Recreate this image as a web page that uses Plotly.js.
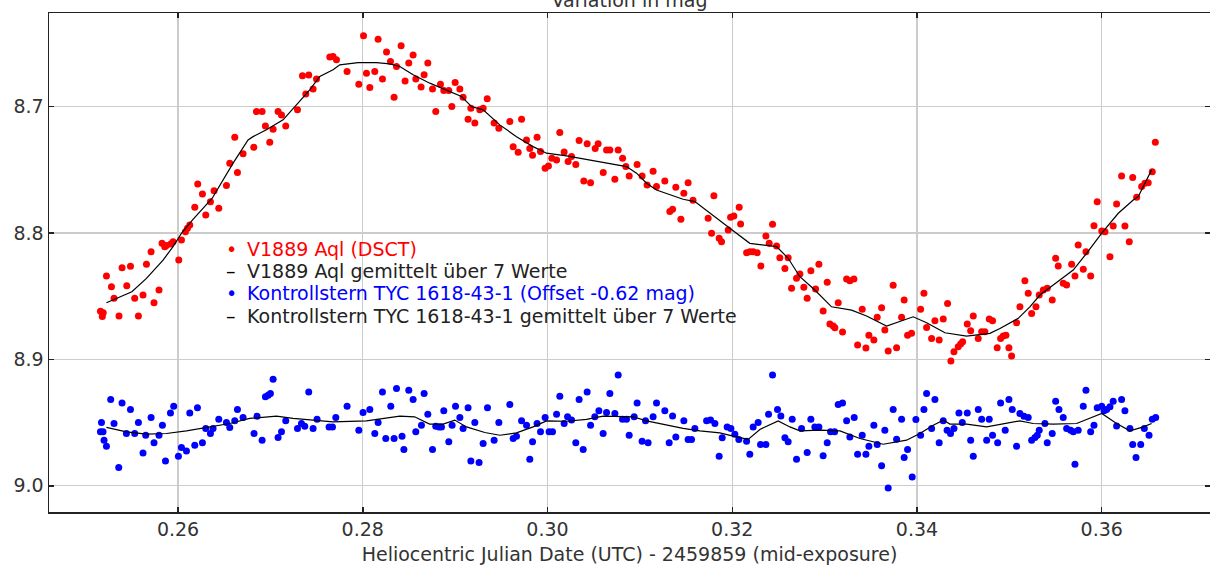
<!DOCTYPE html>
<html>
<head>
<meta charset="utf-8">
<script src="https://cdn.plot.ly/plotly-3.0.1.min.js"></script>
<style>html,body{margin:0;padding:0;background:#fff;}#chart{width:1210px;height:566px;}</style>
</head>
<body>
<div id="chart"></div>
<script>
// V1889 Aql (DSCT) measurements
const varX = [0.2516,0.2518,0.2519,0.25225,0.25279,0.25307,0.25361,0.25394,0.25445,0.25485,0.25531,0.25571,0.25621,0.25658,0.25708,0.2574,0.25794,0.25827,0.25856,0.25874,0.25921,0.25946,0.26008,0.26037,0.2608,0.26102,0.26127,0.26181,0.26213,0.26264,0.263,0.26351,0.2639,0.26441,0.26524,0.2656,0.26614,0.26643,0.26704,0.2682,0.26849,0.2691,0.26946,0.26993,0.27029,0.27083,0.2712,0.27166,0.27293,0.27347,0.27383,0.27415,0.27462,0.27499,0.27643,0.27678,0.27715,0.2783,0.27957,0.28008,0.2804,0.28076,0.2813,0.28166,0.28213,0.28257,0.283,0.28339,0.28365,0.28415,0.28458,0.28498,0.28545,0.28574,0.28631,0.28664,0.28704,0.28755,0.2879,0.28841,0.28877,0.28931,0.28964,0.29,0.29051,0.29086,0.2914,0.2917,0.29213,0.29267,0.29303,0.29347,0.29422,0.29473,0.29592,0.29628,0.29682,0.29719,0.29773,0.29808,0.29838,0.29887,0.29924,0.29974,0.3001,0.30047,0.30098,0.30133,0.3018,0.30223,0.3026,0.30306,0.30342,0.30393,0.30429,0.30466,0.30516,0.30548,0.30603,0.30639,0.30675,0.30729,0.30765,0.30813,0.30848,0.30884,0.3097,0.31024,0.31078,0.31143,0.3118,0.3127,0.31324,0.31354,0.31389,0.31444,0.31476,0.31522,0.31575,0.31739,0.31776,0.31801,0.31858,0.31884,0.31956,0.31982,0.32017,0.32075,0.3209,0.32155,0.32191,0.32226,0.3227,0.3231,0.32364,0.324,0.32436,0.3248,0.32515,0.3257,0.32605,0.32642,0.32696,0.32732,0.32775,0.32811,0.32851,0.32902,0.32938,0.32984,0.33028,0.33057,0.33093,0.33111,0.33147,0.33194,0.33238,0.33273,0.33317,0.33357,0.33407,0.33447,0.33479,0.33533,0.33569,0.33617,0.33652,0.33688,0.33742,0.33779,0.33833,0.33861,0.33898,0.33941,0.34039,0.34075,0.34104,0.34158,0.34194,0.3424,0.34284,0.34331,0.34367,0.344,0.34446,0.34472,0.34494,0.34544,0.34581,0.34609,0.34663,0.347,0.34735,0.34782,0.34818,0.34868,0.34905,0.34933,0.34963,0.34995,0.35024,0.35078,0.35114,0.35168,0.35204,0.35241,0.35288,0.35323,0.35367,0.3541,0.35464,0.35501,0.35529,0.35583,0.3562,0.35674,0.3571,0.35745,0.358,0.35829,0.3588,0.35916,0.35951,0.36,0.36035,0.36089,0.36124,0.36161,0.36215,0.36251,0.36298,0.36335,0.36378,0.36432,0.36468,0.36503,0.36547,0.3658];
const varMag = [8.862,8.866,8.863,8.834,8.8425,8.8517,8.8657,8.8275,8.8417,8.8264,8.8517,8.8657,8.8491,8.8248,8.8148,8.8552,8.8451,8.8082,8.8108,8.81,8.8087,8.8069,8.8214,8.8055,8.799,8.7963,8.7937,8.7797,8.7612,8.7691,8.7858,8.7752,8.7665,8.7804,8.7625,8.7448,8.7242,8.7522,8.7374,8.7322,8.704,8.704,8.7153,8.7282,8.7179,8.704,8.7066,8.7153,8.7026,8.6757,8.69,8.675,8.6862,8.6783,8.6609,8.6604,8.663,8.6723,8.6823,8.644,8.6736,8.685,8.6723,8.6467,8.6783,8.6569,8.6644,8.6926,8.6683,8.652,8.6797,8.6656,8.6593,8.6783,8.6846,8.6749,8.6656,8.6862,8.704,8.6823,8.6873,8.6873,8.7,8.681,8.6862,8.6926,8.71,8.7013,8.7131,8.7026,8.7013,8.6939,8.7131,8.7171,8.7119,8.7317,8.7361,8.71,8.7264,8.7332,8.7385,8.7242,8.7356,8.7488,8.747,8.7409,8.7422,8.7206,8.7359,8.7435,8.7396,8.7459,8.7269,8.7588,8.7295,8.7602,8.7332,8.7295,8.7522,8.7343,8.7343,8.7575,8.7343,8.7409,8.7475,8.7549,8.7459,8.7549,8.762,8.7512,8.7633,8.7588,8.7831,8.7812,8.7638,8.7892,8.7686,8.7602,8.7742,8.7884,8.8002,8.7705,8.8042,8.8069,8.7976,8.7876,8.7865,8.7797,8.7929,8.8156,8.8148,8.8148,8.8156,8.8261,8.8024,8.8082,8.7931,8.8103,8.8196,8.828,8.8196,8.8438,8.8359,8.8325,8.843,8.8517,8.8298,8.8443,8.8248,8.8618,8.839,8.872,8.8736,8.875,8.8552,8.8784,8.8364,8.8378,8.8364,8.8887,8.8604,8.891,8.8808,8.8847,8.8667,8.8591,8.8768,8.8934,8.8414,8.8908,8.8667,8.853,8.8808,8.8794,8.8604,8.8477,8.8747,8.8834,8.8694,8.8847,8.8681,8.8557,8.9013,8.894,8.89,8.8879,8.8861,8.872,8.8774,8.8657,8.8834,8.8781,8.8781,8.8681,8.8694,8.8908,8.8834,8.8815,8.8808,8.8908,8.8974,8.871,8.8584,8.8378,8.8477,8.8636,8.8584,8.8491,8.8451,8.8438,8.853,8.82,8.8261,8.8398,8.8412,8.8248,8.834,8.8095,8.8287,8.8148,8.834,8.7942,8.7752,8.7984,8.799,8.8188,8.7945,8.777,8.7549,8.7945,8.8069,8.7562,8.7717,8.7633,8.7606,8.7602,8.7515,8.7282];

// V1889 Aql, running mean over 7 values
const varAvgX = [0.25225,0.255,0.25658,0.25838,0.25946,0.26037,0.26162,0.2637,0.26596,0.26758,0.26812,0.26957,0.27137,0.27264,0.27426,0.27534,0.27678,0.27751,0.27949,0.28148,0.28292,0.28401,0.28545,0.28725,0.2887,0.29069,0.29177,0.29303,0.29483,0.29664,0.29844,0.29989,0.30206,0.30422,0.30639,0.30855,0.30964,0.31072,0.3118,0.31289,0.31468,0.31595,0.31757,0.31974,0.3219,0.3248,0.32605,0.32732,0.32894,0.33075,0.33292,0.33454,0.33671,0.33959,0.34104,0.34302,0.34537,0.34789,0.34898,0.35096,0.35222,0.35331,0.35475,0.35691,0.35836,0.36,0.36179,0.36341,0.36395,0.3654];
const varAvgMag = [8.8552,8.8465,8.8359,8.8214,8.8108,8.8002,8.7892,8.7725,8.7448,8.7264,8.7238,8.7184,8.7105,8.7,8.6868,8.6762,8.6709,8.667,8.6652,8.6652,8.6662,8.6683,8.6749,8.6815,8.6862,8.6921,8.7,8.7026,8.7145,8.7238,8.7317,8.7369,8.739,8.7417,8.7443,8.7475,8.7527,8.7607,8.766,8.7686,8.7733,8.7752,8.7844,8.7963,8.8082,8.8108,8.82,8.8346,8.8451,8.8584,8.861,8.8657,8.8736,8.8663,8.871,8.8789,8.8816,8.8794,8.8755,8.8675,8.8584,8.8491,8.8412,8.8293,8.8161,8.8002,8.7844,8.7739,8.7713,8.7501];

// Kontrollstern TYC 1618-43-1 (offset -0.62 mag)
const chkX = [0.2516,0.25171,0.25188,0.25199,0.25225,0.25271,0.25307,0.25358,0.25394,0.25441,0.25485,0.25531,0.25571,0.25621,0.2565,0.25708,0.2574,0.25794,0.25831,0.25864,0.25918,0.25953,0.26004,0.26037,0.26091,0.26127,0.26181,0.2621,0.26264,0.263,0.26351,0.26379,0.26441,0.26524,0.2656,0.26614,0.26643,0.26704,0.26823,0.26855,0.2691,0.26946,0.26975,0.27,0.27029,0.27083,0.2712,0.27166,0.27293,0.27336,0.27372,0.27415,0.27462,0.27505,0.27635,0.27672,0.27708,0.2783,0.27957,0.28003,0.28076,0.2813,0.28166,0.28213,0.28249,0.28303,0.28339,0.28365,0.28425,0.28445,0.28498,0.28545,0.28574,0.28635,0.28664,0.28704,0.28755,0.2879,0.28826,0.28852,0.28877,0.28931,0.28967,0.29004,0.29051,0.29086,0.2914,0.2917,0.29213,0.29259,0.29303,0.2935,0.29422,0.29473,0.29592,0.29628,0.29664,0.29719,0.29773,0.29808,0.29838,0.29887,0.29924,0.29974,0.30017,0.30054,0.30098,0.30133,0.3018,0.30217,0.3026,0.30306,0.30342,0.30386,0.30429,0.30466,0.30512,0.30556,0.30602,0.30639,0.30675,0.30729,0.30765,0.30812,0.30855,0.30884,0.30938,0.3097,0.31024,0.31061,0.31089,0.31143,0.3118,0.3127,0.31317,0.31354,0.31389,0.31476,0.31522,0.31559,0.31595,0.31722,0.31765,0.31812,0.31858,0.31891,0.31945,0.31985,0.32028,0.32071,0.32155,0.3219,0.32226,0.3228,0.32306,0.32364,0.32393,0.32436,0.3249,0.32526,0.3257,0.32605,0.32649,0.32696,0.3275,0.32811,0.32851,0.32894,0.32938,0.32984,0.33028,0.33064,0.33108,0.33147,0.33194,0.33238,0.33273,0.3332,0.33357,0.33407,0.33447,0.33479,0.33533,0.33569,0.33617,0.33652,0.33688,0.33742,0.33779,0.33833,0.33861,0.33898,0.33948,0.33988,0.34039,0.34075,0.34104,0.34158,0.34194,0.3424,0.34284,0.34326,0.34363,0.344,0.34454,0.3449,0.34544,0.34581,0.34609,0.34663,0.347,0.34754,0.34782,0.34818,0.34873,0.34905,0.34955,0.34995,0.35031,0.35078,0.35114,0.35158,0.35204,0.35241,0.35277,0.35302,0.35323,0.35385,0.3541,0.35464,0.35501,0.35537,0.35583,0.3562,0.35663,0.35692,0.3571,0.35745,0.358,0.35829,0.3588,0.35916,0.35951,0.36,0.36025,0.36053,0.36089,0.36124,0.36161,0.36215,0.36251,0.36305,0.36335,0.36371,0.36422,0.36461,0.36512,0.36547,0.36584];
const chkMag = [8.9573,8.9499,8.9573,8.9639,8.9687,8.9317,8.9507,8.9855,8.9344,8.9586,8.9396,8.9586,8.9499,8.974,8.96,8.9459,8.966,8.96,8.952,8.9803,8.9423,8.937,8.9766,8.9697,8.9724,8.9423,8.9679,8.9383,8.966,8.9546,8.9586,8.9546,8.9473,8.9499,8.9538,8.9486,8.9396,8.9459,8.9586,8.9449,8.9639,8.9296,8.9283,8.9269,8.9156,8.9618,8.9573,8.9486,8.9546,8.9507,8.9528,8.9257,8.9546,8.9473,8.9534,8.9534,8.9459,8.937,8.956,8.942,8.9396,8.9586,8.9499,8.9257,8.9626,8.937,8.9626,8.923,8.9607,8.9713,8.9243,8.9317,8.9573,8.952,8.9269,8.9433,8.9713,8.9528,8.9534,8.9534,8.9407,8.9652,8.952,8.937,8.9459,8.9546,8.9383,8.9803,8.9499,8.9816,8.9665,8.9383,8.9639,8.9499,8.9356,8.9626,8.9607,8.9486,8.952,8.979,8.9652,8.9507,8.9573,8.9459,8.9573,8.9573,8.9433,8.9291,8.9507,8.9454,8.948,8.966,8.9317,8.9713,8.9257,8.952,8.9454,8.9407,8.9586,8.942,8.9269,8.9428,8.9124,8.9473,8.9473,8.96,8.9454,8.9344,8.9647,8.9486,8.966,8.9454,8.9344,8.9407,8.966,8.9447,8.9613,8.9486,8.9633,8.9633,8.9546,8.9486,8.948,8.9507,8.9766,8.962,8.9534,8.9546,8.9592,8.9633,8.9647,8.975,8.9534,8.9499,8.9673,8.9673,8.9433,8.9124,8.9396,8.9447,8.962,8.9652,8.9473,8.979,8.9546,8.9736,8.9473,8.9534,8.9534,8.9763,8.966,8.9573,8.9573,8.9356,8.9344,8.9486,8.9613,8.9459,8.975,8.96,8.975,8.9687,8.952,8.9673,8.9842,8.956,9.0017,8.9396,8.9631,8.9473,8.9776,8.9713,8.993,8.9475,8.96,8.9396,8.9269,8.9546,8.9317,8.966,8.9486,8.956,8.9586,8.9546,8.9423,8.9499,8.9423,8.9639,8.9766,8.9396,8.9473,8.9639,8.9473,8.96,8.966,8.9344,8.956,8.9317,8.9396,8.9687,8.9428,8.9449,8.9459,8.9639,8.9618,8.96,8.956,8.9507,8.966,8.9586,8.933,8.9396,8.9459,8.9546,8.956,8.9573,8.9829,8.956,8.937,8.9243,8.9573,8.952,8.9383,8.937,8.9407,8.9396,8.9375,8.933,8.9526,8.9317,8.9407,8.9546,8.9673,8.9776,8.9673,8.9546,8.96,8.9473,8.9459];

// Kontrollstern, running mean over 7 values
const chkAvgX = [0.25225,0.25441,0.25658,0.25874,0.26091,0.26307,0.2656,0.26776,0.27065,0.27245,0.27499,0.27678,0.2804,0.28401,0.28561,0.28723,0.2887,0.28996,0.29123,0.29321,0.29483,0.29664,0.29844,0.29989,0.30206,0.30422,0.30602,0.30783,0.30927,0.31072,0.31289,0.31468,0.31649,0.31866,0.32009,0.32172,0.32299,0.32497,0.32624,0.32732,0.32949,0.33166,0.33382,0.33634,0.33887,0.34031,0.34176,0.34284,0.34356,0.34537,0.34754,0.34971,0.35114,0.35258,0.35475,0.35728,0.35872,0.36,0.36161,0.36305,0.3645,0.3654];
const chkAvgMag = [8.9538,8.9573,8.9591,8.9586,8.9565,8.9541,8.9507,8.9467,8.9449,8.9467,8.948,8.9494,8.9486,8.9449,8.9454,8.9512,8.9512,8.948,8.9534,8.9578,8.96,8.9581,8.9534,8.9486,8.9489,8.9475,8.9449,8.9454,8.9454,8.9486,8.952,8.9546,8.9565,8.9581,8.9607,8.9633,8.9554,8.9486,8.9534,8.9565,8.956,8.9565,8.9626,8.9671,8.9639,8.9586,8.952,8.948,8.9512,8.9512,8.9534,8.9507,8.9486,8.9507,8.9512,8.9507,8.9467,8.9428,8.9507,8.9565,8.9534,8.9507];

const seriesNames = ["V1889 Aql (DSCT)", "V1889 Aql gemittelt über 7 Werte", "Kontrollstern TYC 1618-43-1 (Offset -0.62 mag)", "Kontrollstern TYC 1618-43-1 gemittelt über 7 Werte"];
const seriesColors = ["#ff0000", "#000000", "#0000ff", "#000000"];
const legendSymbols = ["•", "–", "•", "–"];
const xTickVals = [0.26, 0.28, 0.30, 0.32, 0.34, 0.36];
const yTickVals = [8.7, 8.8, 8.9, 9.0];

const FONT = "DejaVu Sans, Verdana, sans-serif";
const FS = 19;

const traces = [
  {x: varX, y: varMag, mode: "markers", type: "scatter", name: seriesNames[0],
   marker: {color: seriesColors[0], size: 7, line: {width: 0}}},
  {x: varAvgX, y: varAvgMag, mode: "lines", type: "scatter", name: seriesNames[1],
   line: {color: seriesColors[1], width: 1.2}},
  {x: chkX, y: chkMag, mode: "markers", type: "scatter", name: seriesNames[2],
   marker: {color: seriesColors[2], size: 7, line: {width: 0}}},
  {x: chkAvgX, y: chkAvgMag, mode: "lines", type: "scatter", name: seriesNames[3],
   line: {color: seriesColors[3], width: 1.2}}
];

const legendRowsY = [0.5265, 0.4835, 0.4382, 0.3927];
const annotations = [];
for (let i = 0; i < seriesNames.length; i++) {
  annotations.push({xref: "paper", yref: "paper", x: 0.157, y: legendRowsY[i], xanchor: "center", yanchor: "middle",
    text: legendSymbols[i], showarrow: false, font: {family: FONT, size: FS, color: seriesColors[i]}});
  annotations.push({xref: "paper", yref: "paper", x: 0.1688, y: legendRowsY[i], xanchor: "left", yanchor: "middle",
    text: seriesNames[i], showarrow: false, font: {family: FONT, size: FS, color: i % 2 === 0 ? seriesColors[i] : "#222222"}});
}

const layout = {
  width: 1210, height: 566,
  margin: {l: 49, r: 0, t: 13, b: 54, pad: 0},
  paper_bgcolor: "#ffffff", plot_bgcolor: "#ffffff",
  showlegend: false,
  font: {family: FONT, size: FS, color: "#333333"},
  title: {text: "Variation in mag", x: 0.5, xref: "paper", y: 1, yref: "container", yanchor: "middle",
          font: {family: FONT, size: FS, color: "#333333"}},
  xaxis: {
    range: [0.24603, 0.37172], tickvals: xTickVals, tickformat: ".2f",
    showgrid: true, gridcolor: "#cccccc", gridwidth: 1.3, zeroline: false,
    showline: true, linecolor: "#222222", linewidth: 1.5, mirror: "ticks",
    ticks: "inside", ticklen: 5, tickwidth: 1.5, tickcolor: "#222222",
    tickfont: {family: FONT, size: FS, color: "#333333"},
    title: {text: "Heliocentric Julian Date (UTC) - 2459859 (mid-exposure)", font: {family: FONT, size: FS, color: "#333333"}, standoff: 8},
    automargin: false
  },
  yaxis: {
    range: [9.0207, 8.626], tickvals: yTickVals, tickformat: ".1f",
    showgrid: true, gridcolor: "#cccccc", gridwidth: 1.3, zeroline: false,
    showline: true, linecolor: "#222222", linewidth: 1.5, mirror: "ticks",
    ticks: "inside", ticklen: 5, tickwidth: 1.5, tickcolor: "#222222",
    tickfont: {family: FONT, size: FS, color: "#333333"},
    automargin: false
  },
  annotations: annotations
};

Plotly.newPlot("chart", traces, layout, {staticPlot: true, displayModeBar: false});
</script>
</body>
</html>
